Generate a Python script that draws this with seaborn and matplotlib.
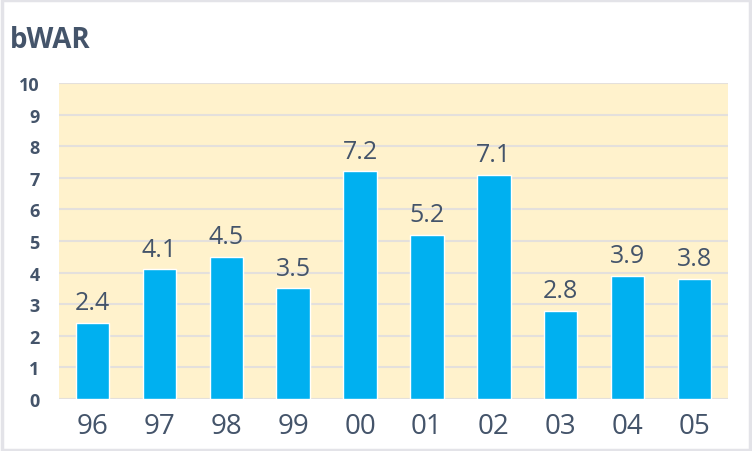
import seaborn as sns
import pandas as pd
from matplotlib import pyplot as plt
from matplotlib.patches import Rectangle

seasons = ['96', '97', '98', '99', '00', '01', '02', '03', '04', '05']
bwar = [2.4, 4.1, 4.5, 3.5, 7.2, 5.2, 7.1, 2.8, 3.9, 3.8]

data = pd.DataFrame({'season': seasons, 'bwar': bwar})

sns.set_style("white")
plt.rcParams['font.family'] = ['Open Sans', 'DejaVu Sans']

fig = plt.figure(figsize=(7.52, 4.52), dpi=100)
ax = fig.add_axes([59 / 752, 1 - 400 / 452, (728 - 59) / 752, (400 - 84) / 452])

# light grey frame round the whole picture
fig.patches.append(Rectangle((0.002, 0.003), 0.996, 0.994, transform=fig.transFigure,
                             fill=False, edgecolor='#E3E3E8', linewidth=2.5))

ax.set_facecolor('#FFF2CC')
sns.barplot(data=data, x='season', y='bwar', ax=ax, color='#00B0F0',
            width=0.5, saturation=1)

ax.set_ylim(0, 10)
ax.set_yticks(range(0, 11))
ax.yaxis.grid(True, color='#E4E0DC', linewidth=1.5)
ax.set_axisbelow(True)
for s in ax.spines.values():
    s.set_visible(False)

text_col = '#44546A'
ax.tick_params(axis='y', length=0, pad=14, labelsize=13, labelcolor=text_col)
for lab in ax.get_yticklabels():
    lab.set_fontweight('bold')
ax.tick_params(axis='x', length=0, pad=9, labelsize=20, labelcolor=text_col)

for i, v in enumerate(bwar):
    ax.text(i, v + 0.25, f'{v}', ha='center', va='bottom', fontsize=18, color=text_col)

ax.set_xlabel('')
ax.set_ylabel('')
fig.text(10 / 752, 1 - 40 / 452, 'bWAR', fontsize=20, fontweight='bold',
         color=text_col, va='center', ha='left')

fig.savefig('out.png', dpi=100)
